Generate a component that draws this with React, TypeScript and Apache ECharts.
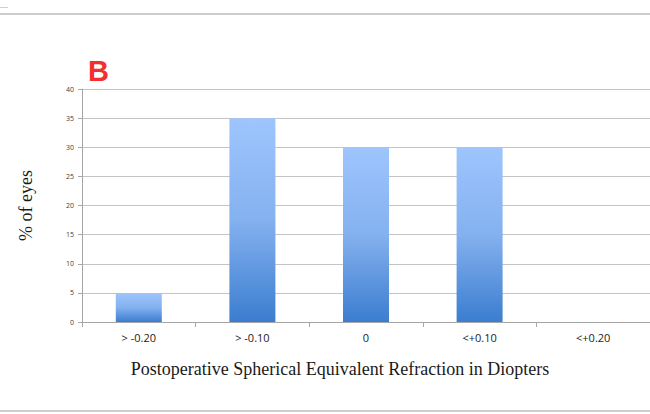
import React, { useEffect, useRef } from "react";
import * as echarts from "echarts";

const categories = ["> -0.20", "> -0.10", "0", "<+0.10", "<+0.20"];
const percentEyes = [5, 35, 30, 30, 0];
const yMin = 0;
const yMax = 40;
const yInterval = 5;

export default function App() {
  const ref = useRef<HTMLDivElement>(null);
  useEffect(() => {
    const chart = echarts.init(ref.current!, undefined, { renderer: "svg" });
    chart.setOption({
      animation: false,
      backgroundColor: "#ffffff",
      grid: { left: 82, right: 0, top: 89, bottom: 92 },
      graphic: [
        { type: "rect", shape: { x: 0, y: 13, width: 650, height: 2 }, style: { fill: "#cdcdcd" } },
        { type: "rect", shape: { x: 0, y: 7, width: 8, height: 1 }, style: { fill: "#d0d0d0" } },
        { type: "rect", shape: { x: 0, y: 410, width: 650, height: 2 }, style: { fill: "#cdcdcd" } },
        {
          type: "text",
          left: 88,
          top: 56,
          style: { text: "B", fill: "#f2302f", font: "bold 29px 'Liberation Sans', Arial, sans-serif" },
        },
      ],
      xAxis: {
        type: "category",
        data: categories,
        name: "Postoperative Spherical Equivalent Refraction in Diopters",
        nameLocation: "middle",
        nameGap: 38,
        nameTextStyle: {
          fontFamily: "'Liberation Serif', 'Times New Roman', serif",
          fontSize: 18,
          color: "#1a1a1a",
          padding: [0, 52, 0, 0],
        },
        axisLine: { lineStyle: { color: "#a6a6a6", width: 1 } },
        axisTick: { show: true, alignWithLabel: false, length: 5, lineStyle: { color: "#a6a6a6" } },
        axisLabel: { fontSize: 11, color: "#222", margin: 10, fontFamily: "'Open Sans', 'Liberation Sans', sans-serif", interval: 0 },
      },
      yAxis: {
        type: "value",
        min: yMin,
        max: yMax,
        interval: yInterval,
        name: "% of eyes",
        nameLocation: "middle",
        nameGap: 47,
        nameRotate: 90,
        nameTextStyle: { fontFamily: "'Liberation Serif', 'Times New Roman', serif", fontSize: 18, color: "#1a1a1a" },
        axisLine: { show: true, lineStyle: { color: "#a6a6a6", width: 1 } },
        axisTick: { show: true, length: 4, lineStyle: { color: "#a6a6a6" } },
        axisLabel: { fontSize: 7, color: "#404040", margin: 8, fontFamily: "'Open Sans', 'Liberation Sans', sans-serif" },
        splitLine: { lineStyle: { color: "#c4c4c4", width: 1 } },
      },
      series: [
        {
          type: "bar",
          data: percentEyes,
          barWidth: 46,
          itemStyle: {
            color: new echarts.graphic.LinearGradient(0, 0, 0, 1, [
              { offset: 0, color: "#9ec5fd" },
              { offset: 0.5, color: "#84b1ef" },
              { offset: 1, color: "#3b7dd0" },
            ]),
            borderWidth: 0,
          },
        },
      ],
    });
    return () => chart.dispose();
  }, []);
  return <div ref={ref} style={{ position: "fixed", left: 0, top: 0, width: 650, height: 414 }} />;
}
